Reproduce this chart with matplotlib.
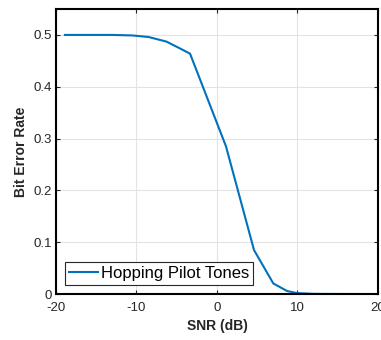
import matplotlib
matplotlib.use("Agg")
import matplotlib.pyplot as plt

snr_db = [-18.9, -16.0, -13.0, -10.5, -8.5, -6.25, -3.35, 1.12, 4.6, 7.0, 8.7, 9.9, 12.0, 15.0, 20.0]
ber = [0.5, 0.5, 0.5, 0.499, 0.496, 0.487, 0.464, 0.285, 0.085, 0.0205, 0.006, 0.002, 0.0005, 0.0002, 0.0001]
series_label = "Hopping Pilot Tones"
xticks = [-20, -10, 0, 10, 20]
yticks = [0, 0.1, 0.2, 0.3, 0.4, 0.5]
ytick_labels = ["0", "0.1", "0.2", "0.3", "0.4", "0.5"]

plt.rcParams['font.family'] = ['Liberation Sans', 'DejaVu Sans']

fig = plt.figure(figsize=(3.81, 3.40), dpi=100)
ax = fig.add_axes([0.147, 0.135, 0.845, 0.8385])
ax.plot(snr_db, ber, color=(0, 0.447, 0.741), linewidth=1.5, label=series_label)
ax.set_xlim(-20, 20)
ax.set_ylim(0, 0.55)
ax.set_xticks(xticks)
ax.set_xticklabels([str(t) for t in xticks])
ax.set_yticks(yticks)
ax.set_yticklabels(ytick_labels)
ax.grid(True, color='#e3e3e3', linewidth=0.8)
ax.set_axisbelow(True)
ax.tick_params(direction='in', length=3, width=0.8, top=True, right=True, labelsize=9.5, colors='#262626', labelcolor='#262626', pad=3)
ax.tick_params(axis='x', pad=6)
for s in ax.spines.values():
    s.set_linewidth(1.5)
    s.set_color('black')
ax.set_xlabel("SNR (dB)", fontsize=10, fontweight='bold', color='#262626', labelpad=3)
ax.set_ylabel("Bit Error Rate", fontsize=10, fontweight='bold', color='#262626', labelpad=4)
leg = ax.legend(loc='lower left', fontsize=12, frameon=True, fancybox=False, borderpad=0.25,
                handlelength=1.7, handletextpad=0.2, borderaxespad=0.55)
leg.get_frame().set_edgecolor('#262626')
leg.get_frame().set_linewidth(0.8)
leg.get_frame().set_alpha(1)
fig.savefig("out.png", dpi=100)
